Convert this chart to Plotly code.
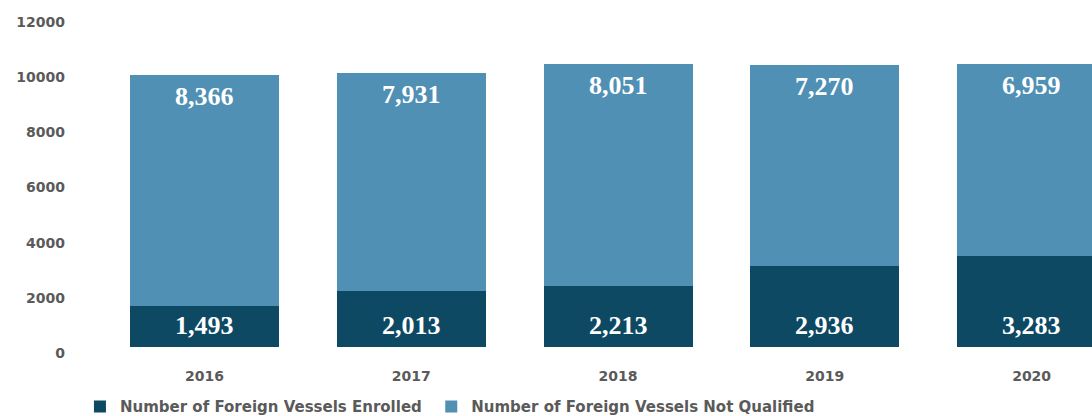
import plotly.graph_objects as go

years = ["2016", "2017", "2018", "2019", "2020"]
enrolled = [1493, 2013, 2213, 2936, 3283]
not_qualified = [8366, 7931, 8051, 7270, 6959]
y_ticks = [0, 2000, 4000, 6000, 8000, 10000, 12000]

DARK = "#0e4964"
LIGHT = "#4f90b4"
AXIS_TEXT = "#5a5a5a"
SANS = "DejaVu Sans, Arial, sans-serif"
LABEL_FONT = dict(family="Liberation Serif, Times New Roman, serif", size=26, color="white")
LEGEND_FONT = dict(size=15, color=AXIS_TEXT, weight="bold")

fig = go.Figure()
fig.add_bar(x=years, y=enrolled, name="Number of Foreign Vessels Enrolled",
            marker=dict(color=DARK, line=dict(width=0)), hoverinfo="skip",
            legend="legend")
fig.add_bar(x=years, y=not_qualified, name="Number of Foreign Vessels Not Qualified",
            marker=dict(color=LIGHT, line=dict(width=0)), hoverinfo="skip",
            legend="legend2")

# value labels: enrolled near the base, not-qualified near the top of each stack
for i, (e, n) in enumerate(zip(enrolled, not_qualified)):
    fig.add_annotation(x=i, y=0, text=f"<b>{e:,}</b>", showarrow=False,
                       yanchor="bottom", yshift=5, font=LABEL_FONT)
    fig.add_annotation(x=i, y=e + n, text=f"<b>{n:,}</b>", showarrow=False,
                       yanchor="top", yshift=-5, font=LABEL_FONT)

legend_common = dict(orientation="h", xanchor="left", y=-0.23, yanchor="bottom",
                     font=LEGEND_FONT, bgcolor="rgba(0,0,0,0)")

fig.update_layout(
    barmode="stack",
    bargap=0.28,
    width=1092, height=416,
    margin=dict(l=66, r=0, t=16, b=69, autoexpand=False),
    paper_bgcolor="white", plot_bgcolor="white",
    font=dict(family=SANS, color=AXIS_TEXT),
    xaxis=dict(type="category", range=[-0.67, 4.292], showgrid=False, showline=False,
               zeroline=False, ticks="outside", ticklen=16, tickcolor="rgba(0,0,0,0)",
               tickfont=dict(size=14, color=AXIS_TEXT, weight="bold")),
    yaxis=dict(range=[0, 12000], tickvals=y_ticks, tickformat="d", showgrid=False,
               showline=False, zeroline=False, ticklabelshift=6,
               tickfont=dict(size=14, color=AXIS_TEXT, weight="bold")),
    legend=dict(x=0.0136, **legend_common),
    legend2=dict(x=0.356, **legend_common),
    showlegend=True,
)

fig.write_html("out.html")
